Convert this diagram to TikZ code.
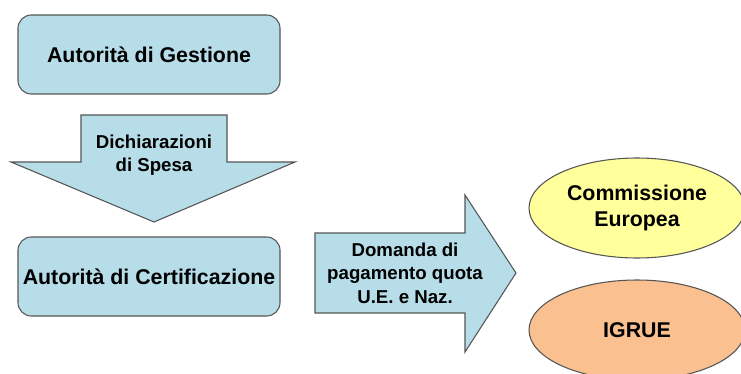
\documentclass[tikz,border=0pt]{standalone}
\usepackage{fontspec}
\setmainfont{Liberation Sans}
\usetikzlibrary{shapes.geometric}
\definecolor{boxblue}{HTML}{B7DDE8}
\definecolor{ellyellow}{HTML}{FFFF9C}
\definecolor{ellorange}{HTML}{FAC090}
\definecolor{edgegray}{HTML}{555555}
\tikzset{
  rbox/.style={draw=edgegray, line width=0.8pt, fill=boxblue, rounded corners=10pt,
    minimum width=262*0.75pt, minimum height=79*0.75pt, inner sep=0pt,
    font=\fontsize{16}{19}\selectfont\bfseries},
  arrowshape/.style={draw=edgegray, line width=0.8pt, fill=boxblue},
  arrowtext/.style={align=center, inner sep=0pt, font=\fontsize{14}{17.5}\selectfont\bfseries},
  ell/.style={draw=edgegray, line width=0.8pt, ellipse, minimum width=216*0.75pt,
    minimum height=100*0.75pt, inner sep=0pt, align=center,
    font=\fontsize{16}{19.5}\selectfont\bfseries},
}
\begin{document}
\begin{tikzpicture}[x=0.75pt,y=-0.75pt]
\useasboundingbox (0,0) rectangle (741,374);
\begin{scope}
\clip (0,0) rectangle (741,374);
% boxes
\node[rbox] (ag) at (149,54.5) {Autorità di Gestione};
\node[rbox] (ac) at (149,276.5) {Autorità di Certificazione};
% down arrow
\draw[arrowshape] (81,115) -- (227,115) -- (227,162) -- (295,162) -- (154,222) -- (11,162) -- (81,162) -- cycle;
\node[arrowtext] (ds) at (154,155.5) {Dichiarazioni\\di Spesa};
% right arrow
\draw[arrowshape] (315,233) -- (465,233) -- (465,195) -- (516,273) -- (465,352) -- (465,313) -- (315,313) -- cycle;
\node[arrowtext] (dp) at (405,273) {Domanda di\\pagamento quota\\U.E. e Naz.};
% ellipses
\node[ell, fill=ellyellow] (ce) at (637,208) {Commissione\\Europea};
\node[ell, fill=ellorange] (ig) at (637,330) {IGRUE};
\end{scope}
\end{tikzpicture}
\end{document}
